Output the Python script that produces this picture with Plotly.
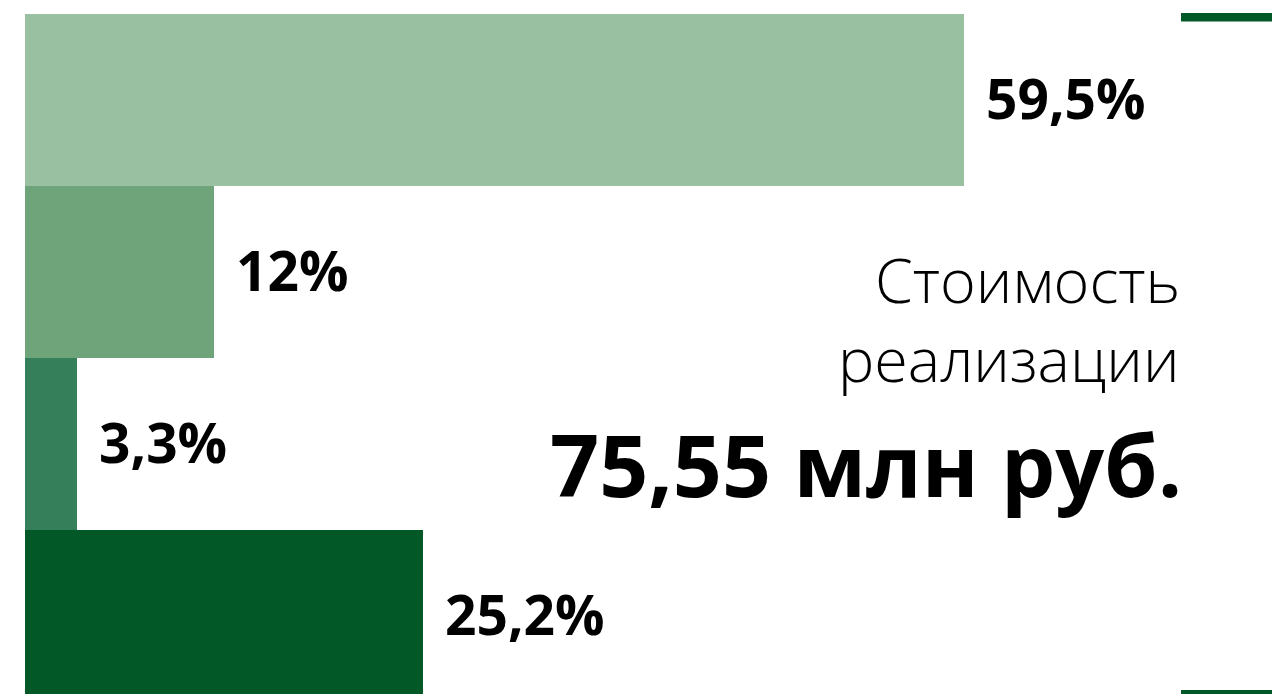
import plotly.graph_objects as go

# Shares of the sale cost, top to bottom
shares = [59.5, 12.0, 3.3, 25.2]
share_labels = ["59,5%", "12%", "3,3%", "25,2%"]
bar_colors = ["#99c0a1", "#6fa47b", "#35805a", "#025826"]
positions = [0, 1, 2, 3]

caption_lines = ["Стоимость", "реализации"]
total_text = "75,55 млн руб."

W, H = 1272, 694
left, top = 25, 14
plot_w, plot_h = W - left, H - top
px_per_unit = 939 / 59.5
band_px = 172

fig = go.Figure(
    go.Bar(
        x=shares,
        y=positions,
        orientation="h",
        marker=dict(color=bar_colors, line=dict(width=0)),
        hoverinfo="skip",
    )
)

for v, p, lab in zip(shares, positions, share_labels):
    fig.add_annotation(
        x=v, y=p, text=lab, showarrow=False,
        xanchor="left", yanchor="middle", xshift=20, yshift=3,
        font=dict(family="Open Sans", size=55, color="#000000", weight=700),
    )

def py(pix):
    return 1 - (pix - top) / plot_h

def px(pix):
    return (pix - left) / plot_w

fig.add_annotation(
    xref="paper", yref="paper", x=px(1182), y=py(280), text=caption_lines[0],
    showarrow=False, xanchor="right", yanchor="middle",
    font=dict(family="Open Sans", size=61, color="#000000", weight=300),
)
fig.add_annotation(
    xref="paper", yref="paper", x=px(1182), y=py(358), text=caption_lines[1],
    showarrow=False, xanchor="right", yanchor="middle",
    font=dict(family="Open Sans", size=61, color="#000000", weight=300),
)
fig.add_annotation(
    xref="paper", yref="paper", x=px(1184), y=py(463), text=total_text,
    showarrow=False, xanchor="right", yanchor="middle",
    font=dict(family="Open Sans", size=86, color="#000000", weight=700),
)

# Decorative rules at the right edge
fig.add_shape(type="rect", xref="paper", yref="paper",
              x0=px(1181), x1=1, y0=py(13), y1=py(21.5),
              fillcolor="#025826", line=dict(width=0), layer="above")
fig.add_shape(type="rect", xref="paper", yref="paper",
              x0=px(1181), x1=1, y0=0, y1=py(690),
              fillcolor="#025826", line=dict(width=0), layer="above")

fig.update_layout(
    width=W, height=H,
    margin=dict(l=left, r=0, t=top, b=0, pad=0),
    paper_bgcolor="#ffffff", plot_bgcolor="#ffffff",
    bargap=0, showlegend=False,
    xaxis=dict(range=[0, plot_w / px_per_unit], visible=False, fixedrange=True),
    yaxis=dict(range=[-0.5 + plot_h / band_px, -0.5], visible=False, fixedrange=True),
)

fig.write_html("out.html", config={"displayModeBar": False})
